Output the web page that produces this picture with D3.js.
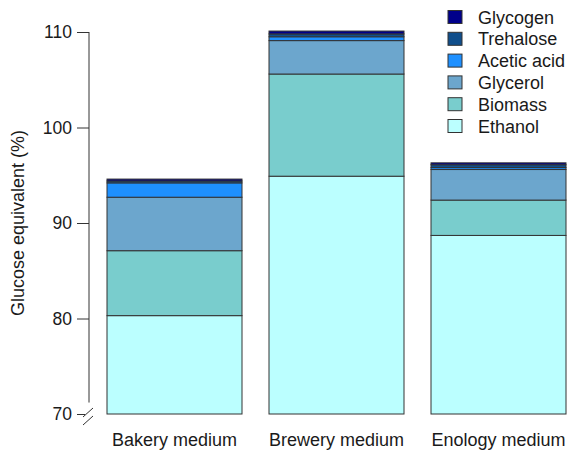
<!DOCTYPE html>
<html>
<head>
<meta charset="utf-8">
<script src="https://cdn.jsdelivr.net/npm/d3@7"></script>
<style>
    body { margin: 0; background: #fff; }
    text { font-family: "Liberation Sans", Arial, sans-serif; fill: #1a1a1a; }
</style>
</head>
<body>
<div id="chart"></div>
<script>
const media = ["Bakery medium", "Brewery medium", "Enology medium"];
const components = ["Ethanol", "Biomass", "Glycerol", "Acetic acid", "Trehalose", "Glycogen"];
const ethanol    = [80.3, 94.9, 88.7];
const biomass    = [6.8, 10.7, 3.7];
const glycerol   = [5.6, 3.5, 3.2];
const acetic     = [1.5, 0.4, 0.2];
const trehalose  = [0.2, 0.3, 0.3];
const glycogen   = [0.2, 0.3, 0.2];
const y_ticks = [70, 80, 90, 100, 110];
const colors = ["#BBFFFF", "#79CDCD", "#6CA6CD", "#1E90FF", "#104E8B", "#00008B"];

const series = [ethanol, biomass, glycerol, acetic, trehalose, glycogen];
const rows = media.map((m, i) => {
    let r = {medium: m};
    components.forEach((c, j) => r[c] = series[j][i]);
    return r;
});

let svg_width = 569, svg_height = 451;
let svg = d3.select("#chart").append("svg")
    .attr("width", svg_width)
    .attr("height", svg_height);

let x = d3.scaleBand()
    .domain(media)
    .range([107, 566])
    .paddingInner(27 / 162)
    .paddingOuter(0);
let y = d3.scaleLinear()
    .domain([70, 110])
    .range([414, 32]);

let stacked = d3.stack().keys(components)(rows);
// bars start at the broken axis base (70), not at zero
stacked.forEach(layer => layer.forEach(d => { if (d[0] === 0) d[0] = 70; }));

svg.append("g")
    .selectAll("g")
    .data(stacked)
    .join("g")
    .attr("fill", (d, i) => colors[i])
    .selectAll("rect")
    .data(d => d)
    .join("rect")
    .attr("x", d => x(d.data.medium))
    .attr("width", x.bandwidth())
    .attr("y", d => y(d[1]))
    .attr("height", d => y(d[0]) - y(d[1]))
    .attr("stroke", "#333")
    .attr("stroke-width", 1);

// y axis with break
let axis = svg.append("g")
    .attr("transform", "translate(89,0)")
    .call(d3.axisLeft(y).tickValues(y_ticks).tickSize(12).tickPadding(5));
axis.select(".domain").remove();
axis.selectAll(".tick line").attr("stroke", "#333");
axis.selectAll(".tick text")
    .style("font-size", "17.5px")
    .attr("fill", "#1a1a1a")
    .style("font-family", "Liberation Sans, Arial, sans-serif");
axis.selectAll(".tick").filter(d => d === 70).select("line").attr("x1", -4);

svg.append("line")
    .attr("x1", 89).attr("x2", 89)
    .attr("y1", y(110)).attr("y2", y(71.2))
    .attr("stroke", "#333");
svg.append("line")
    .attr("x1", 83).attr("y1", 417).attr("x2", 93).attr("y2", 408)
    .attr("stroke", "#333");
svg.append("line")
    .attr("x1", 83).attr("y1", 425).attr("x2", 93).attr("y2", 416)
    .attr("stroke", "#333");

svg.append("text")
    .attr("transform", "translate(24," + y(90) + ") rotate(-90)")
    .attr("text-anchor", "middle")
    .style("font-size", "18px")
    .text("Glucose equivalent (%)");

// category labels
svg.selectAll(".xlab")
    .data(media)
    .join("text")
    .attr("class", "xlab")
    .attr("x", d => x(d) + x.bandwidth() / 2)
    .attr("y", 446)
    .attr("text-anchor", "middle")
    .style("font-size", "18px")
    .text(d => d);

// legend, top entry first
let legend_items = components.slice().reverse();
let legend_colors = colors.slice().reverse();
let legend = svg.append("g")
    .selectAll("g")
    .data(legend_items)
    .join("g")
    .attr("transform", (d, i) => "translate(448," + (17 + i * 21.8) + ")");
legend.append("rect")
    .attr("x", 0).attr("y", -6.5)
    .attr("width", 14).attr("height", 13)
    .attr("fill", (d, i) => legend_colors[i])
    .attr("stroke", "#333");
legend.append("text")
    .attr("x", 30).attr("y", 6.5)
    .style("font-size", "18px")
    .text(d => d);
</script>
</body>
</html>
